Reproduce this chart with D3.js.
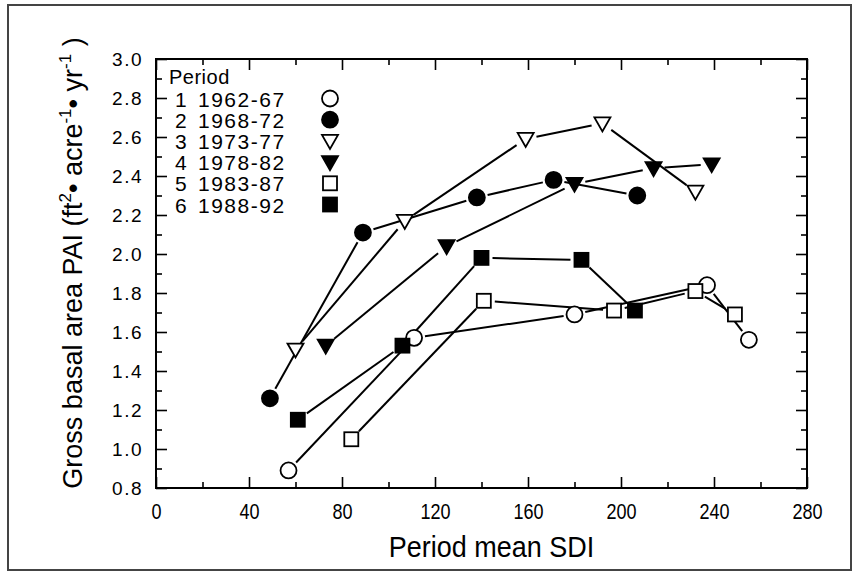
<!DOCTYPE html>
<html>
<head>
<meta charset="utf-8">
<script src="https://cdn.jsdelivr.net/npm/d3@7"></script>
<style>
  html, body { margin: 0; padding: 0; background: #fff; }
  svg { display: block; }
  .tick text { fill: #000; }
</style>
</head>
<body>
<svg id="chart" width="860" height="578"></svg>
<script>
// ---- data ----
const periodNums = ["1", "2", "3", "4", "5", "6"];
const periodYears = ["1962-67", "1968-72", "1973-77", "1978-82", "1983-87", "1988-92"];
const symbols = ["circleOpen", "circleFilled", "triOpen", "triFilled", "squareOpen", "squareFilled"];

const sdi1 = [57, 111, 180, 237, 255];
const pai1 = [0.89, 1.57, 1.69, 1.84, 1.56];
const sdi2 = [49, 89, 138, 171, 207];
const pai2 = [1.26, 2.11, 2.29, 2.38, 2.30];
const sdi3 = [60, 107, 159, 192, 232];
const pai3 = [1.51, 2.17, 2.59, 2.67, 2.32];
const sdi4 = [73, 125, 180, 214, 239];
const pai4 = [1.53, 2.04, 2.36, 2.44, 2.46];
const sdi5 = [84, 141, 197, 232, 249];
const pai5 = [1.05, 1.76, 1.71, 1.81, 1.69];
const sdi6 = [61, 106, 140, 183, 206];
const pai6 = [1.15, 1.53, 1.98, 1.97, 1.71];

const xMajorTicks = [0, 40, 80, 120, 160, 200, 240, 280];
const xMinorTicks = [20, 60, 100, 140, 180, 220, 260];
const yMajorTicks = [0.8, 1.0, 1.2, 1.4, 1.6, 1.8, 2.0, 2.2, 2.4, 2.6, 2.8, 3.0];
const yMinorTicks = [0.9, 1.1, 1.3, 1.5, 1.7, 1.9, 2.1, 2.3, 2.5, 2.7, 2.9];

const xTitle = "Period mean SDI";
const legendTitle = "Period";

const seriesX = [sdi1, sdi2, sdi3, sdi4, sdi5, sdi6];
const seriesY = [pai1, pai2, pai3, pai4, pai5, pai6];

// ---- layout ----
const svg = d3.select("#chart");
const X0 = 156, X1 = 807, Y0 = 59, Y1 = 488;
const x = d3.scaleLinear().domain([0, 280]).range([X0, X1]);
const y = d3.scaleLinear().domain([0.8, 3.0]).range([Y1, Y0]);

const FONT = "'Liberation Sans', Arial, Helvetica, sans-serif";

// outer frame
svg.append("rect")
  .attr("x", 8).attr("y", 5).attr("width", 843).attr("height", 565)
  .attr("fill", "none").attr("stroke", "#444").attr("stroke-width", 2);

const MAJ = 11, MIN = 6;
function noDomain(g) { g.select(".domain").remove(); }
function blackLines(g) { g.selectAll("line").attr("stroke", "#000").attr("stroke-width", 1.6); }

// bottom
svg.append("g").attr("transform", `translate(0,${Y1})`)
  .call(d3.axisBottom(x).tickValues(xMajorTicks).tickSize(-MAJ).tickFormat(d3.format("d")))
  .call(noDomain)
  .call(g => g.selectAll("text").attr("y", 31).attr("dy", 0)
      .attr("font-family", FONT).attr("font-size", 22)
      .attr("transform", "scale(0.82,1)"))
  .call(blackLines);
svg.append("g").attr("transform", `translate(0,${Y1})`)
  .call(d3.axisBottom(x).tickValues(xMinorTicks).tickSize(-MIN).tickFormat(""))
  .call(noDomain).call(blackLines);
// top
svg.append("g").attr("transform", `translate(0,${Y0})`)
  .call(d3.axisTop(x).tickValues(xMajorTicks).tickSize(-MAJ).tickFormat(""))
  .call(noDomain).call(blackLines);
svg.append("g").attr("transform", `translate(0,${Y0})`)
  .call(d3.axisTop(x).tickValues(xMinorTicks).tickSize(-MIN).tickFormat(""))
  .call(noDomain).call(blackLines);
// left
svg.append("g").attr("transform", `translate(${X0},0)`)
  .call(d3.axisLeft(y).tickValues(yMajorTicks).tickSize(-MAJ).tickPadding(13).tickFormat(d3.format(".1f")))
  .call(noDomain)
  .call(g => g.selectAll("text").attr("font-family", FONT).attr("font-size", 19)
      .attr("letter-spacing", 1.5))
  .call(blackLines);
svg.append("g").attr("transform", `translate(${X0},0)`)
  .call(d3.axisLeft(y).tickValues(yMinorTicks).tickSize(-MIN).tickFormat(""))
  .call(noDomain).call(blackLines);
// right
svg.append("g").attr("transform", `translate(${X1},0)`)
  .call(d3.axisRight(y).tickValues(yMajorTicks).tickSize(-MAJ).tickFormat(""))
  .call(noDomain).call(blackLines);
svg.append("g").attr("transform", `translate(${X1},0)`)
  .call(d3.axisRight(y).tickValues(yMinorTicks).tickSize(-MIN).tickFormat(""))
  .call(noDomain).call(blackLines);

// plot box
svg.append("rect")
  .attr("x", X0).attr("y", Y0).attr("width", X1 - X0).attr("height", Y1 - Y0)
  .attr("fill", "none").attr("stroke", "#000").attr("stroke-width", 2);

// axis titles
svg.append("text")
  .attr("transform", `translate(${(X0 + X1) / 2 + 10},557) scale(0.9,1)`)
  .attr("text-anchor", "middle")
  .attr("font-family", FONT).attr("font-size", 30)
  .text(xTitle);

const yt = svg.append("text")
  .attr("transform", "translate(82,263) rotate(-90)")
  .attr("text-anchor", "middle")
  .attr("font-family", FONT).attr("font-size", 27);
yt.append("tspan").text("Gross basal area PAI (ft");
yt.append("tspan").attr("dy", -11).attr("font-size", 17).text("2");
yt.append("tspan").attr("dy", 11).text("\u2022 acre");
yt.append("tspan").attr("dy", -11).attr("font-size", 17).text("-1");
yt.append("tspan").attr("dy", 11).text("\u2022 yr");
yt.append("tspan").attr("dy", -11).attr("font-size", 17).text("-1");
yt.append("tspan").attr("dy", 11).text(" )");

// markers
function drawMarker(g, type, cx, cy) {
  const sw = 1.8;
  const fill = type.endsWith("Filled") ? "#000" : "#fff";
  if (type.startsWith("circle")) {
    g.append("circle").attr("cx", cx).attr("cy", cy).attr("r", 8)
      .attr("fill", fill).attr("stroke", "#000").attr("stroke-width", sw);
  } else if (type.startsWith("tri")) {
    const p = [[cx - 8, cy - 6], [cx + 8, cy - 6], [cx, cy + 8]];
    g.append("path").attr("d", "M" + p.map(q => q.join(",")).join("L") + "Z")
      .attr("fill", fill).attr("stroke", "#000").attr("stroke-width", sw);
  } else {
    g.append("rect").attr("x", cx - 7).attr("y", cy - 7).attr("width", 14).attr("height", 14)
      .attr("fill", fill).attr("stroke", "#000").attr("stroke-width", sw);
  }
}

const GAP = 11;
const linesG = svg.append("g");
const marksG = svg.append("g");
seriesX.forEach((xs, s) => {
  const pts = xs.map((v, i) => [x(v), y(seriesY[s][i])]);
  for (let i = 0; i < pts.length - 1; i++) {
    const [ax, ay] = pts[i], [bx, by] = pts[i + 1];
    const dx = bx - ax, dy = by - ay, L = Math.hypot(dx, dy);
    if (L <= 2 * GAP) continue;
    const ux = dx / L, uy = dy / L;
    linesG.append("line")
      .attr("x1", ax + ux * GAP).attr("y1", ay + uy * GAP)
      .attr("x2", bx - ux * GAP).attr("y2", by - uy * GAP)
      .attr("stroke", "#000").attr("stroke-width", 2);
  }
  pts.forEach(p => drawMarker(marksG, symbols[s], p[0], p[1]));
});

// legend
const lg = svg.append("g");
lg.append("text").attr("x", 169).attr("y", 84)
  .attr("font-family", FONT).attr("font-size", 20).attr("letter-spacing", 0.5)
  .text(legendTitle);
periodNums.forEach((n, i) => {
  const by = 106.5 + i * 21.2;
  const t = lg.append("text").attr("y", by)
    .attr("font-family", FONT).attr("font-size", 21).attr("letter-spacing", 1.5);
  t.append("tspan").attr("x", 175).text(n);
  t.append("tspan").attr("x", 198).text(periodYears[i]);
  drawMarker(lg, symbols[i], 330, by - 8);
});
</script>
</body>
</html>
